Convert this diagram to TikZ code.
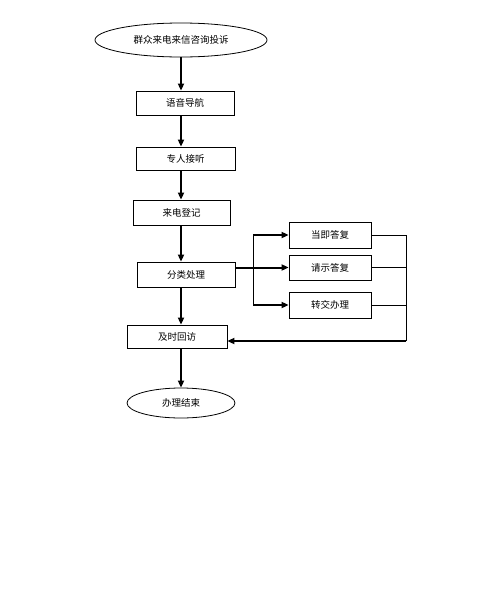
\documentclass[tikz,border=0pt]{standalone}
\usepackage{fontspec}
\setmainfont{Noto Sans CJK SC}
\usetikzlibrary{shapes.geometric, arrows.meta}

\begin{document}
\begin{tikzpicture}[
    x=1pt, y=-1pt,
    every node/.style={font=\fontsize{9.5}{11}\selectfont},
    oval/.style={ellipse, draw=black, line width=0.8pt, inner sep=0pt},
    stepbox/.style={rectangle, draw=black, line width=0.8pt, inner sep=0pt},
    flow/.style={draw, line width=2pt, -{Triangle[width=6pt,length=7pt]}},
    branch/.style={draw, line width=0.8pt},
    wire/.style={draw, line width=0.8pt}
]
\useasboundingbox (0,0) rectangle (500,600);

% --- Основная цепочка ---
\node[oval, minimum width=172pt, minimum height=34pt] (start) at (181, 40) {群众来电来信咨询投诉};
\node[stepbox, minimum width=98pt, minimum height=24pt] (nav) at (185, 103) {语音导航};
\node[stepbox, minimum width=99pt, minimum height=23pt] (staff) at (185.5, 158.5) {专人接听};
\node[stepbox, minimum width=97pt, minimum height=25pt] (reg) at (181.5, 212.5) {来电登记};
\node[stepbox, minimum width=98pt, minimum height=25pt] (sort) at (186, 274.5) {分类处理};
\node[stepbox, minimum width=100pt, minimum height=23pt] (visit) at (177, 336.5) {及时回访};
\node[oval, minimum width=108pt, minimum height=30pt] (finish) at (181, 403) {办理结束};

% Вертикальные связи
\draw[flow] (181, 0 |- start.south) -- (181, 0 |- nav.north);
\draw[flow] (181, 0 |- nav.south) -- (181, 0 |- staff.north);
\draw[flow] (181, 0 |- staff.south) -- (181, 0 |- reg.north);
\draw[flow] (181, 0 |- reg.south) -- (181, 0 |- sort.north);
\draw[flow] (181, 0 |- sort.south) -- (181, 0 |- visit.north);
\draw[flow] (181, 0 |- visit.south) -- (181, 0 |- finish.north);

% --- Варианты ответа ---
\node[stepbox, minimum width=82pt, minimum height=26pt] (rep1) at (330, 235) {当即答复};
\node[stepbox, minimum width=82pt, minimum height=25pt] (rep2) at (330, 267.5) {请示答复};
\node[stepbox, minimum width=82pt, minimum height=26pt] (rep3) at (330, 305) {转交办理};

\coordinate (fork) at (253, 0 |- rep2.west);
\draw[branch] (253, 0 |- rep1.west) -- (253, 0 |- rep3.west);
\draw[flow] (sort.east |- rep2.west) -- (rep2.west);
\draw[flow] (253, 0 |- rep1.west) -- (rep1.west);
\draw[flow] (253, 0 |- rep3.west) -- (rep3.west);

% --- Возврат ---
\coordinate (back) at (406, 341);
\draw[wire] (rep1.east) -- (406, 0 |- rep1.east) -- (back);
\draw[wire] (rep2.east) -- (406, 0 |- rep2.east);
\draw[wire] (rep3.east) -- (406, 0 |- rep3.east);
\draw[flow] (back) -- (visit.east |- back);
\end{tikzpicture}
\end{document}
